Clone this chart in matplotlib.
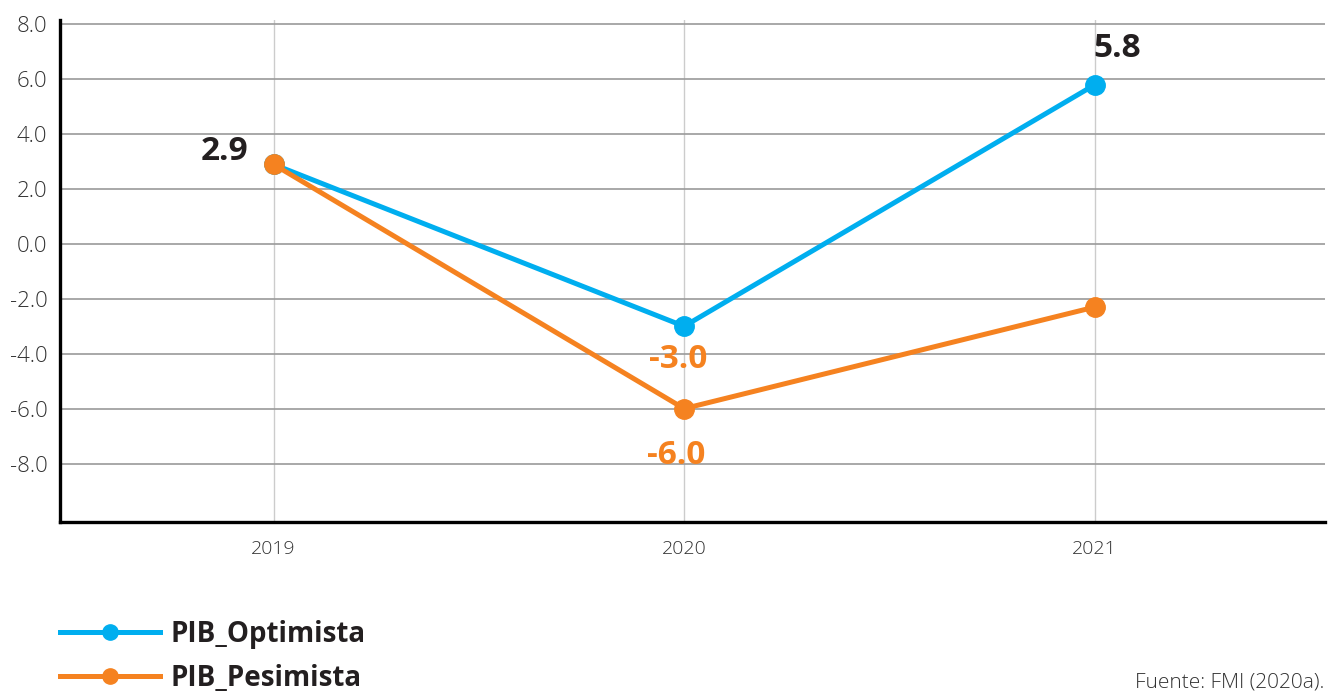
import matplotlib
matplotlib.use("Agg")
import matplotlib.pyplot as plt
from matplotlib.lines import Line2D

# data
years = [2019, 2020, 2021]
pib_optimista = [2.9, -3.0, 5.8]
pib_pesimista = [2.9, -6.0, -2.3]
y_ticks = [8, 6, 4, 2, 0, -2, -4, -6, -8]

# value labels: (year, value, text, colour, offset in points)
labels = [
    (2019, 2.9, "2.9", "#231F20", (-35, 9)),
    (2021, 5.8, "5.8", "#231F20", (16, 26)),
    (2020, -3.0, "-3.0", "#F58220", (-4, -24)),
    (2020, -6.0, "-6.0", "#F58220", (-6, -34)),
]

BLUE = "#00AEEF"
ORANGE = "#F58220"

plt.rcParams["font.family"] = ["Open Sans", "DejaVu Sans"]
plt.rcParams["axes.unicode_minus"] = False

fig = plt.figure(figsize=(13.3, 6.93), dpi=100)
ax = fig.add_axes([0.0451, 0.2468, 0.9509, 0.7243])

ax.plot(years, pib_optimista, color=BLUE, lw=3.6, marker="o", ms=14,
        label="PIB_Optimista", zorder=3)
ax.plot(years, pib_pesimista, color=ORANGE, lw=3.6, marker="o", ms=14,
        label="PIB_Pesimista", zorder=3)

for x, y, txt, col, off in labels:
    ax.annotate(txt, (x, y), xytext=off, textcoords="offset points",
                ha="center", va="center", fontsize=24, fontweight="bold",
                color=col, zorder=4)

ax.set_xlim(2018.48, 2021.56)
ax.set_ylim(-10.13, 8.16)
ax.set_xticks(years)
ax.set_yticks(y_ticks)
ax.set_yticklabels([f"{v:.1f}" for v in y_ticks])

ax.yaxis.grid(True, color="#9a9a9a", lw=1.2)
ax.xaxis.grid(True, color="#cccccc", lw=1.0)
ax.set_axisbelow(True)

for s in ["top", "right"]:
    ax.spines[s].set_visible(False)
ax.spines["left"].set_linewidth(2.4)
ax.spines["bottom"].set_linewidth(2.4)

ax.tick_params(axis="y", length=0, pad=9, labelsize=16, labelcolor="#333333")
ax.tick_params(axis="x", length=0, pad=13, labelsize=14, labelcolor="#333333")
for t in ax.get_xticklabels() + ax.get_yticklabels():
    t.set_fontweight("light")

handles = [
    Line2D([], [], color=BLUE, lw=3.6, marker="o", ms=11),
    Line2D([], [], color=ORANGE, lw=3.6, marker="o", ms=11),
]
leg = fig.legend(handles, ["PIB_Optimista", "PIB_Pesimista"],
                 loc="center left", bbox_to_anchor=(0.045, 0.053),
                 frameon=False, handlelength=3.6, handletextpad=0.4,
                 labelspacing=0.55, borderaxespad=0, borderpad=0,
                 prop={"size": 20, "weight": "bold"})
for t in leg.get_texts():
    t.set_color("#231F20")

fig.text(0.996, 0.0, "Fuente: FMI (2020a).", ha="right", va="bottom",
         fontsize=15, fontweight="light", color="#333333")

fig.savefig("out.png", dpi=100)
